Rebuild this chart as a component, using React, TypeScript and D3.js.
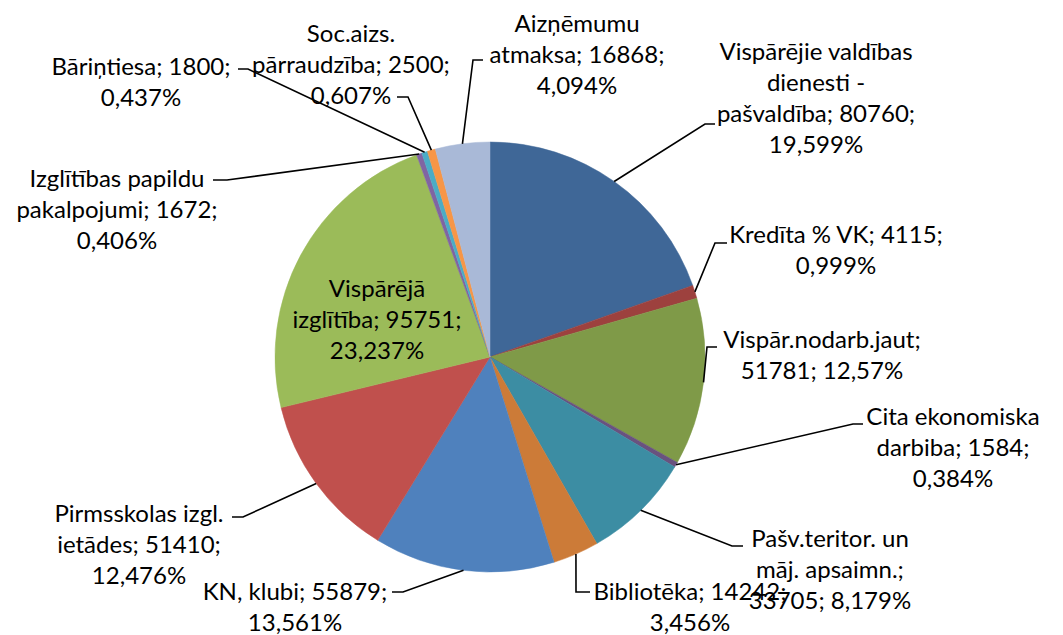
import { useEffect, useRef } from 'react';
import * as d3 from 'd3';

// slices in clockwise order starting at 12 o'clock
const categories = [
  'Vispārējie valdības dienesti - pašvaldība',
  'Kredīta % VK',
  'Vispār.nodarb.jaut',
  'Cita ekonomiska darbiba',
  'Pašv.teritor. un māj. apsaimn.',
  'Bibliotēka',
  'KN, klubi',
  'Pirmsskolas izgl. ietādes',
  'Vispārējā izglītība',
  'Izglītības papildu pakalpojumi',
  'Bāriņtiesa',
  'Soc.aizs. pārraudzība',
  'Aizņēmumu atmaksa',
];
const values = [80760, 4115, 51781, 1584, 33705, 14242, 55879, 51410, 95751, 1672, 1800, 2500, 16868];
const percents = ['19,599%', '0,999%', '12,57%', '0,384%', '8,179%', '3,456%', '13,561%', '12,476%', '23,237%', '0,406%', '0,437%', '0,607%', '4,094%'];

const colors = [
  '#3F6797', '#9D413E', '#7F9A48', '#69527F', '#3C8DA3', '#CC7B38',
  '#4F81BD', '#C0504D', '#9BBB59', '#8064A2', '#4BACC6', '#F79646', '#A9B9D7',
];

// label placement: words per line, centre x, first baseline, leader bend and end
const labelLayout = [
  { words: [2, 2, 2, 1], x: 816, y: 60, bend: [705, 124], end: [715, 124] },
  { words: [4, 1], x: 836, y: 243, bend: [715, 243], end: [727, 243] },
  { words: [1, 2], x: 822, y: 348, bend: [707, 347], end: [717, 347] },
  { words: [2, 2, 1], x: 953, y: 425, bend: [853, 424], end: [863, 424] },
  { words: [2, 2, 2], x: 830, y: 547, bend: [732, 546], end: [743, 546] },
  { words: [2, 1], x: 690, y: 600, bend: [576, 592], end: [590, 592] },
  { words: [3, 1], x: 295, y: 600, bend: [403, 592], end: [392, 592] },
  { words: [2, 2, 1], x: 139, y: 522, bend: [243, 517], end: [232, 517] },
  { words: [1, 2, 1], x: 377, y: 297, bend: null, end: null },
  { words: [2, 2, 1], x: 117, y: 187, bend: [227, 180], end: [213, 180] },
  { words: [2, 1], x: 141, y: 75, bend: [248, 69], end: [238, 69] },
  { words: [1, 2, 1], x: 351, y: 42, bend: [408, 97], end: [397, 97] },
  { words: [1, 2, 1], x: 577, y: 32, bend: [473, 60], end: [483, 60] },
];

const W = 1063;
const H = 635;
const cx = 490;
const cy = 357;
const radius = 215;
const lineH = 31;

function splitLines(text: string, counts: number[]) {
  const w = text.split(' ');
  const out: string[] = [];
  let i = 0;
  counts.forEach(n => {
    out.push(w.slice(i, i + n).join(' '));
    i += n;
  });
  return out;
}

export default function App() {
  const ref = useRef<SVGSVGElement>(null);

  useEffect(() => {
    const svg = d3.select(ref.current);
    svg.selectAll('*').remove();

    const data = values.map((v, i) => ({ name: categories[i], value: v, pct: percents[i], i }));

    const pie = d3.pie<any>().sort(null).value(d => d.value);
    const arcs = pie(data);

    const arc = d3.arc<any>().innerRadius(0).outerRadius(radius);
    const edge = d3.arc<any>().innerRadius(radius).outerRadius(radius);

    const g = svg.append('g').attr('transform', `translate(${cx},${cy})`);

    g.selectAll('path.slice')
      .data(arcs)
      .join('path')
      .attr('class', 'slice')
      .attr('d', arc)
      .attr('fill', d => colors[d.index])
      .attr('stroke', d => colors[d.index])
      .attr('stroke-width', 0.5);

    // leader lines
    arcs.forEach(d => {
      const lay = labelLayout[d.index];
      if (!lay.bend) return;
      const [px, py] = edge.centroid(d);
      const pts: [number, number][] = [
        [px + cx, py + cy],
        lay.bend as [number, number],
        lay.end as [number, number],
      ];
      svg.append('path')
        .attr('d', d3.line()(pts))
        .attr('fill', 'none')
        .attr('stroke', '#000')
        .attr('stroke-width', 1.6);
    });

    // labels
    arcs.forEach(d => {
      const lay = labelLayout[d.index];
      const full = `${d.data.name}; ${d.data.value}; ${d.data.pct}`;
      const lines = splitLines(full, lay.words);
      const t = svg.append('text')
        .attr('text-anchor', 'middle')
        .attr('font-family', 'Lato, "Open Sans", sans-serif')
        .attr('font-size', 24)
        .attr('fill', '#000');
      lines.forEach((ln, k) => {
        t.append('tspan')
          .attr('x', lay.x)
          .attr('y', lay.y + k * lineH)
          .text(ln);
      });
    });
  }, []);

  return (
    <svg
      ref={ref}
      width={W}
      height={H}
      viewBox={`0 0 ${W} ${H}`}
      style={{ position: 'absolute', left: 0, top: 0, background: '#fff' }}
    />
  );
}
